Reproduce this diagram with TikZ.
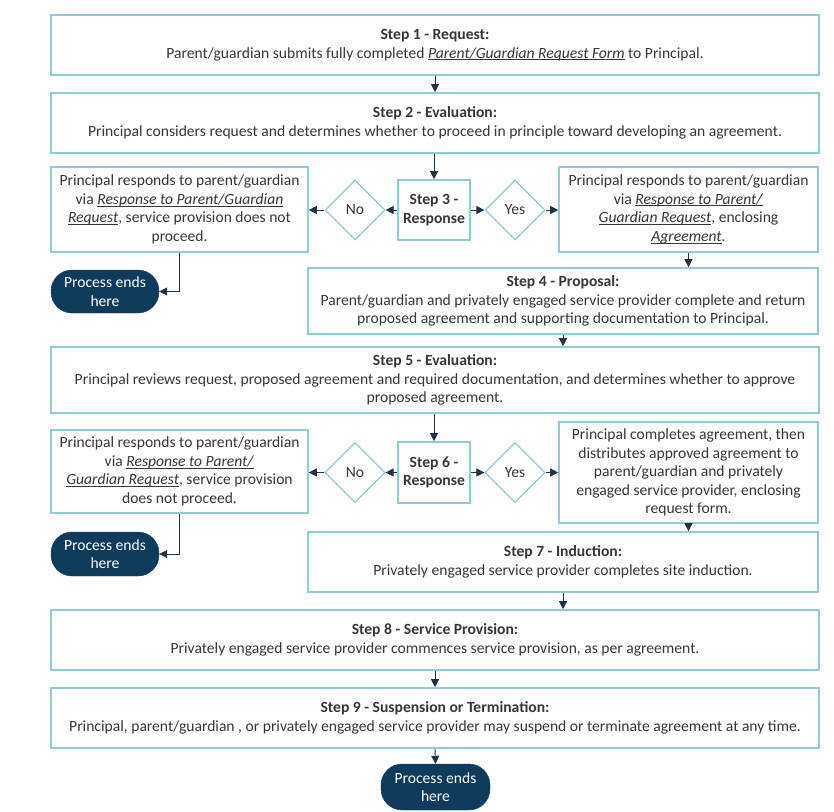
\documentclass[tikz,border=0pt]{standalone}
\usepackage{fontspec}
\setmainfont{Carlito}
\usetikzlibrary{arrows.meta,shapes.geometric}
\definecolor{boxc}{RGB}{143,205,212}
\definecolor{navy}{RGB}{14,58,91}
\definecolor{txt}{RGB}{55,55,55}
\definecolor{lnc}{RGB}{35,50,65}
\newcommand{\uit}[1]{\setbox0\hbox{\textit{#1}}\rlap{\rule[-1.9pt]{\wd0}{0.7pt}}\box0\relax}
\newcommand{\fsz}{\fontsize{15.6}{18.6}\selectfont}
\tikzset{
  box/.style={draw=boxc, line width=1.6pt, fill=white, align=center, text=txt, inner sep=0pt,
    font=\fsz},
  dia/.style={draw=boxc, line width=1.2pt, fill=white, diamond, inner sep=0pt, text=txt,
    minimum width=60pt, minimum height=60pt, font=\fsz},
  endbox/.style={fill=navy, draw=navy, rounded corners=21pt, text=white, align=center, inner sep=0pt,
    font=\fsz},
  arr/.style={draw=lnc, line width=0.9pt, -{Triangle[length=8pt,width=8pt]}},
}
\begin{document}
\begin{tikzpicture}[x=1pt,y=-1pt]
\useasboundingbox (0,0) rectangle (834,811);
\node[box, minimum width=768pt, minimum height=60pt] (S1) at (435,45)
  {\textbf{Step 1 - Request:}\\Parent/guardian submits fully completed \uit{Parent/Guardian Request Form} to Principal.};
\node[box, minimum width=768pt, minimum height=60pt] (S2) at (435,123)
  {\textbf{Step 2 - Evaluation:}\\Principal considers request and determines whether to proceed in principle toward developing an agreement.};
\node[box, minimum width=257pt, minimum height=85pt] (L3) at (179.5,209.5)
  {Principal responds to parent/guardian\\via \uit{Response to Parent/Guardian}\\\uit{Request}, service provision does not\\proceed.};
\node[box, minimum width=72pt, minimum height=60pt] (D3) at (434,210)
  {\textbf{Step 3 -}\\\textbf{Response}};
\node[dia] (N3) at (355,210) {No};
\node[dia] (Y3) at (515,210) {Yes};
\node[box, minimum width=259pt, minimum height=85pt] (R3) at (688.5,209.5)
  {Principal responds to parent/guardian\\via \uit{Response to Parent/}\\\uit{Guardian Request}, enclosing\\\uit{Agreement}.};
\node[endbox, minimum width=108pt, minimum height=43pt] (E3) at (105,291.5)
  {Process ends\\here};
\node[box, minimum width=510pt, minimum height=66pt] (S4) at (563,301)
  {\textbf{Step 4 - Proposal:}\\Parent/guardian and privately engaged service provider complete and return\\proposed agreement and supporting documentation to Principal.};
\node[box, minimum width=768pt, minimum height=66pt] (S5) at (435,380)
  {\textbf{Step 5 - Evaluation:}\\Principal reviews request, proposed agreement and required documentation, and determines whether to approve\\proposed agreement.};
\node[box, minimum width=257pt, minimum height=83pt] (L6) at (179.5,471.5)
  {Principal responds to parent/guardian\\via \uit{Response to Parent/}\\\uit{Guardian Request}, service provision\\does not proceed.};
\node[box, minimum width=72pt, minimum height=61pt] (D6) at (434,472.5)
  {\textbf{Step 6 -}\\\textbf{Response}};
\node[dia] (N6) at (355,472.5) {No};
\node[dia] (Y6) at (515,472.5) {Yes};
\node[box, minimum width=259pt, minimum height=101pt] (R6) at (688.5,472.5)
  {Principal completes agreement, then\\distributes approved agreement to\\parent/guardian and privately\\engaged service provider, enclosing\\request form.};
\node[endbox, minimum width=108pt, minimum height=44pt] (E6) at (105,554)
  {Process ends\\here};
\node[box, minimum width=510pt, minimum height=60pt] (S7) at (563,562)
  {\textbf{Step 7 - Induction:}\\Privately engaged service provider completes site induction.};
\node[box, minimum width=768pt, minimum height=60pt] (S8) at (435,640)
  {\textbf{Step 8 - Service Provision:}\\Privately engaged service provider commences service provision, as per agreement.};
\node[box, minimum width=768pt, minimum height=60pt] (S9) at (435,718)
  {\textbf{Step 9 - Suspension or Termination:}\\Principal, parent/guardian , or privately engaged service provider may suspend or terminate agreement at any time.};
\node[endbox, minimum width=109pt, minimum height=46pt] (E9) at (435.5,787)
  {Process ends\\here};
% connectors
\draw[arr] (S1.south) -- (S2.north);
\draw[arr] (S2.south -| D3.north) -- (D3.north);
\draw[arr] (D3.west) -- (N3.east);
\draw[arr] (N3.west) -- (L3.east |- N3.west);
\draw[arr] (D3.east) -- (Y3.west);
\draw[arr] (Y3.east) -- (R3.west |- Y3.east);
\draw[arr] (R3.south) -- (R3.south |- S4.north);
\draw[arr] (L3.south) |- (E3.east);
\draw[arr] (S4.south) -- (S4.south |- S5.north);
\draw[arr] (S5.south -| D6.north) -- (D6.north);
\draw[arr] (D6.west) -- (N6.east);
\draw[arr] (N6.west) -- (L6.east |- N6.west);
\draw[arr] (D6.east) -- (Y6.west);
\draw[arr] (Y6.east) -- (R6.west |- Y6.east);
\draw[arr] (R6.south) -- (R6.south |- S7.north);
\draw[arr] (L6.south) |- (E6.east);
\draw[arr] (S7.south) -- (S7.south |- S8.north);
\draw[arr] (S8.south -| S9.north) -- (S9.north);
\draw[arr] (S9.south) -- (E9.north);
\end{tikzpicture}
\end{document}
